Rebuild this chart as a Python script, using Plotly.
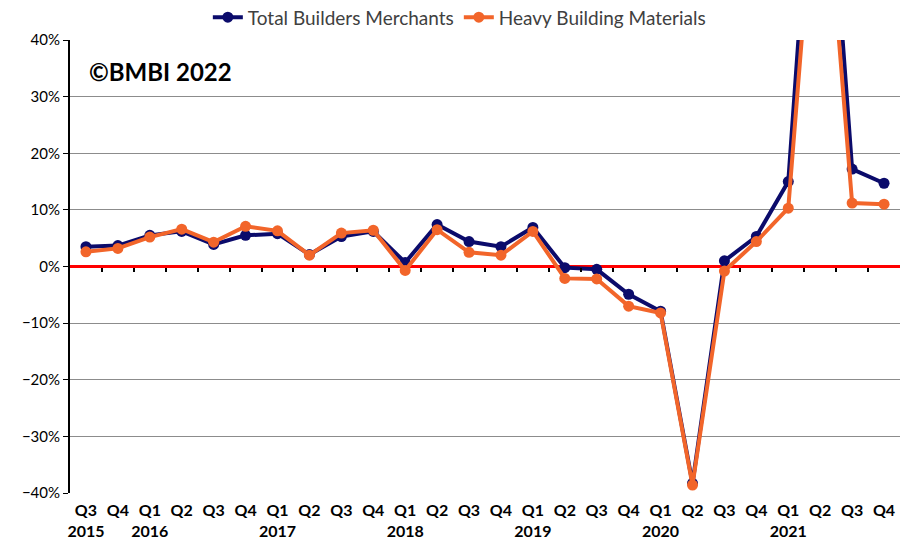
import plotly.graph_objects as go

quarters = ["Q3", "Q4", "Q1", "Q2", "Q3", "Q4", "Q1", "Q2", "Q3", "Q4", "Q1", "Q2", "Q3",
            "Q4", "Q1", "Q2", "Q3", "Q4", "Q1", "Q2", "Q3", "Q4", "Q1", "Q2", "Q3", "Q4"]
years = ["2015", "", "2016", "", "", "", "2017", "", "", "", "2018", "", "",
         "", "2019", "", "", "", "2020", "", "", "", "2021", "", "", ""]

total_bm = [3.5, 3.7, 5.5, 6.2, 3.9, 5.5, 5.8, 2.1, 5.3, 6.2, 0.7, 7.4, 4.4,
            3.5, 6.9, -0.2, -0.5, -4.9, -7.9, -38.3, 1.0, 5.3, 15.0, 94.0, 17.2, 14.7]
heavy_bm = [2.6, 3.2, 5.2, 6.6, 4.3, 7.1, 6.3, 2.0, 5.9, 6.4, -0.7, 6.5, 2.5,
            2.0, 6.2, -2.1, -2.2, -7.0, -8.2, -38.6, -0.8, 4.4, 10.3, 81.0, 11.2, 11.0]

x = list(range(len(quarters)))
ticktext = [f"<b>{q}</b>" + (f"<br><b>{y}</b>" if y else "") for q, y in zip(quarters, years)]

NAVY = "#0b0b6b"
ORANGE = "#f2652a"
FONT = "Lato, 'Open Sans', sans-serif"

fig = go.Figure()
fig.add_trace(go.Scatter(x=x, y=total_bm, name="Total Builders Merchants", mode="lines+markers",
                         line=dict(color=NAVY, width=4), marker=dict(color=NAVY, size=11),
                         cliponaxis=True))
fig.add_trace(go.Scatter(x=x, y=heavy_bm, name="Heavy Building Materials", mode="lines+markers",
                         line=dict(color=ORANGE, width=4), marker=dict(color=ORANGE, size=11),
                         cliponaxis=True))

# helper axis at zero for the small tick marks along the red line
fig.add_trace(go.Scatter(x=x, y=[None] * len(x), xaxis="x2", showlegend=False, hoverinfo="skip"))

fig.update_layout(
    width=906, height=542,
    margin=dict(l=70, r=6, t=40, b=49, autoexpand=False),
    plot_bgcolor="white", paper_bgcolor="white",
    font=dict(family=FONT, size=14, color="#000000"),
    showlegend=True,
    legend=dict(orientation="h", x=0.507, xanchor="center", y=0.968, yanchor="middle",
                yref="container", xref="container", itemwidth=30,
                font=dict(size=19, color="#404040"), traceorder="normal"),
    xaxis=dict(range=[-0.5, len(x) - 0.5], tickmode="array", tickvals=x, ticktext=ticktext,
               showgrid=False, showline=False, ticks="", zeroline=False, automargin=False,
               tickfont=dict(size=16, color="#000000"), ticklabelstandoff=6),
    xaxis2=dict(range=[-0.5, len(x) - 0.5], overlaying="x", anchor="free", position=0.5,
                side="bottom", showgrid=False, showline=False, zeroline=False, automargin=False,
                tickmode="array", tickvals=[i + 0.5 for i in x[:-1]], ticks="outside",
                ticklen=4, tickcolor="#000000", tickwidth=1.5, showticklabels=False),
    yaxis=dict(range=[-40, 40], dtick=10, ticksuffix="%", showgrid=True, gridcolor="#8c8c8c",
               gridwidth=1, zeroline=True, zerolinecolor="#ff0000", zerolinewidth=2.5,
               showline=True, linecolor="#000000", linewidth=2, ticks="outside", ticklen=5,
               tickcolor="#000000", automargin=False, tickfont=dict(size=15, color="#000000")),
    annotations=[dict(text="<b>©BMBI 2022</b>", x=0.021, y=0.93, xref="paper", yref="paper",
                      xanchor="left", yanchor="middle", showarrow=False,
                      font=dict(size=24, color="#000000", family=FONT))],
)

fig.write_html("out.html", config={"displayModeBar": False},
               post_script="document.body.style.margin='0';document.body.style.overflow='hidden';")
